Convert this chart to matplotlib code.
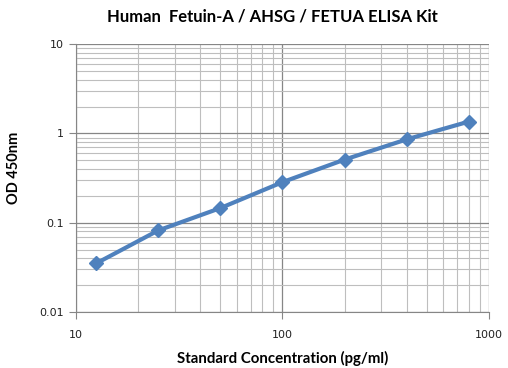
import matplotlib
matplotlib.use('Agg')
import matplotlib.pyplot as plt
from matplotlib.ticker import LogLocator, FixedLocator, NullFormatter

# standard curve readings
conc = [12.5, 25, 50, 100, 200, 400, 800]
od = [0.035, 0.082, 0.146, 0.285, 0.51, 0.86, 1.36]
x_ticks = [10, 100, 1000]
x_labels = ['10', '100', '1000']
y_ticks = [0.01, 0.1, 1, 10]
y_labels = ['0.01', '0.1', '1', '10']

fig = plt.figure(figsize=(5.08, 3.68), dpi=100)
ax = fig.add_axes([0.1496, 0.152, 0.813, 0.728])

ax.plot(conc, od, color='#4F81BD', lw=3, marker='D', ms=7,
        mec='#4F81BD', mfc='#4F81BD', zorder=3)

ax.set_xscale('log')
ax.set_yscale('log')
ax.set_xlim(10, 1000)
ax.set_ylim(0.01, 10)

ax.xaxis.set_major_locator(FixedLocator(x_ticks))
ax.set_xticklabels(x_labels)
ax.yaxis.set_major_locator(FixedLocator(y_ticks))
ax.set_yticklabels(y_labels)
ax.xaxis.set_minor_locator(LogLocator(base=10, subs=range(2, 10)))
ax.yaxis.set_minor_locator(LogLocator(base=10, subs=range(2, 10)))
ax.xaxis.set_minor_formatter(NullFormatter())
ax.yaxis.set_minor_formatter(NullFormatter())

ax.grid(which='major', color='#868686', lw=0.9)
ax.grid(which='minor', color='#BEBEBE', lw=0.8)
ax.set_axisbelow(True)

for s in ['top', 'right']:
    ax.spines[s].set_visible(False)
for s in ['left', 'bottom']:
    ax.spines[s].set_color('#868686')
ax.tick_params(which='major', direction='out', length=5, color='#868686',
               labelsize=8, labelcolor='#222222')
ax.tick_params(which='minor', length=0)
ax.tick_params(axis='x', pad=8)

ax.set_xlabel('Standard Concentration (pg/ml)', fontsize=10.8, family='Lato',
              fontweight='bold', labelpad=8)
ax.set_ylabel('OD 450nm', fontsize=10.5, family='Lato', fontweight='bold')
ax.yaxis.set_label_coords(-0.133, 0.54)
fig.text(272 / 508, 0.955, 'Human  Fetuin-A / AHSG / FETUA ELISA Kit',
         fontsize=12, family='Lato', fontweight='bold', ha='center',
         va='center')

fig.savefig('out.png', dpi=100)
